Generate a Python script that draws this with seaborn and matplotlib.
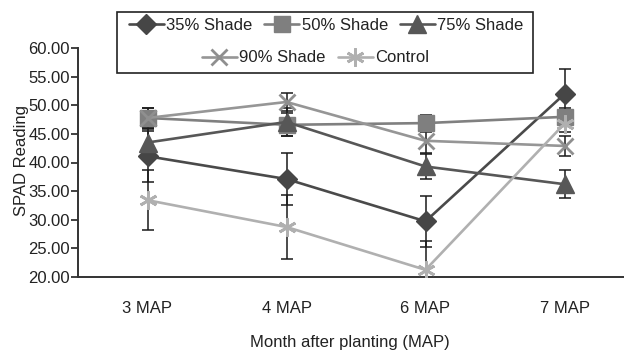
import numpy as np
import pandas as pd
import matplotlib
matplotlib.use("Agg")
import matplotlib.pyplot as plt
from matplotlib.patches import Rectangle
from matplotlib.ticker import FormatStrFormatter, FixedLocator
import seaborn as sns

months = ["3 MAP", "4 MAP", "6 MAP", "7 MAP"]
series = ["35% Shade", "50% Shade", "75% Shade", "90% Shade", "Control"]
shade35 = [41.1, 37.1, 29.7, 52.0]
shade50 = [47.8, 46.6, 46.9, 48.0]
shade75 = [43.5, 47.1, 39.3, 36.2]
shade90 = [47.8, 50.6, 43.8, 42.9]
control = [33.4, 28.7, 21.2, 46.8]
err35 = [4.5, 4.5, 4.5, 4.4]
err50 = [1.8, 2.0, 1.5, 1.5]
err75 = [2.4, 2.4, 2.2, 2.4]
err90 = [1.7, 1.6, 2.2, 1.8]
errc = [5.2, 5.6, 5.1, 1.5]

values = [shade35, shade50, shade75, shade90, control]
errors = [err35, err50, err75, err90, errc]

styles = {
    "35% Shade": dict(color="#4a4a4a", marker="D", ms=10, mfc="#464646", mec="#464646", mew=1),
    "50% Shade": dict(color="#808080", marker="s", ms=12, mfc="#7f7f7f", mec="#7f7f7f", mew=1),
    "75% Shade": dict(color="#575757", marker="^", ms=13, mfc="#575757", mec="#575757", mew=1),
    "90% Shade": dict(color="#969696", marker="x", ms=11, mfc="#8f8f8f", mec="#8f8f8f", mew=2),
    "Control": dict(color="#b0b0b0", marker=(6, 2, 0), ms=13, mfc="#b0b0b0", mec="#b0b0b0", mew=2),
}

sns.set_style("white")
plt.rcParams["font.family"] = ["Liberation Sans Narrow", "Liberation Sans", "DejaVu Sans"]
FS = 12

fig = plt.figure(figsize=(6.24, 3.56), dpi=100)
ax = fig.add_axes([78 / 624, 79.3 / 356, 556 / 624, 228.4 / 356])

for name, vals, errs in zip(series, values, errors):
    ax.errorbar(months, vals, yerr=errs, fmt="none", ecolor="#1a1a1a",
                elinewidth=1.1, capsize=4, capthick=1.1, zorder=1)
for name, vals in zip(series, values):
    st = styles[name]
    df = pd.DataFrame({"month": months, "value": vals})
    sns.lineplot(data=df, x="month", y="value", ax=ax, color=st["color"],
                 marker=st["marker"], markersize=st["ms"], markerfacecolor=st["mfc"],
                 markeredgecolor=st["mec"], markeredgewidth=st["mew"],
                 linewidth=1.9, label=name, legend=False, zorder=3)

ax.set_xlim(-0.5, 3.5)
ax.set_ylim(20, 60)
ax.set_yticks(np.arange(20, 60.1, 5))
ax.yaxis.set_major_formatter(FormatStrFormatter("%.2f"))
ax.xaxis.set_minor_locator(FixedLocator([0.5, 1.5, 2.5]))
ax.tick_params(axis="x", which="major", length=0, pad=23, labelsize=FS, labelcolor="#222222")
ax.tick_params(axis="x", which="minor", length=5, width=1.3, color="#333333", direction="out")
ax.tick_params(axis="y", which="major", length=5, width=1.3, color="#333333", direction="out",
               pad=1, labelsize=FS, labelcolor="#222222", left=True)
for s in ["top", "right"]:
    ax.spines[s].set_visible(False)
for s in ["left", "bottom"]:
    ax.spines[s].set_color("#333333")
    ax.spines[s].set_linewidth(1.4)

ax.set_xlabel("Month after planting (MAP)", fontsize=FS, color="#222222")
ax.set_ylabel("SPAD Reading", fontsize=FS, color="#222222")
ax.xaxis.set_label_coords((350 - 78) / 556, -(343 - 276.7) / 228.4)
ax.yaxis.set_label_coords(-(78 - 22) / 556, (276.7 - 160) / 228.4)
ax.yaxis.label.set_verticalalignment("center")
ax.xaxis.label.set_verticalalignment("center")
ax.xaxis.get_major_ticks()  # ensure ticks exist
for lbl in ax.get_xticklabels():
    lbl.set_verticalalignment("center")

handles, labels = ax.get_legend_handles_labels()
hmap = dict(zip(labels, handles))
common = dict(frameon=False, fontsize=FS, handlelength=2.1, handletextpad=0.15,
              columnspacing=0.7, borderpad=0, labelcolor="#222222")
leg1 = fig.legend([hmap[s] for s in series[:3]], series[:3], loc="center", ncol=3,
                  bbox_to_anchor=(326 / 624, 1 - 25 / 356), **common)
leg2 = fig.legend([hmap[s] for s in series[3:]], series[3:], loc="center", ncol=2,
                  bbox_to_anchor=(315.5 / 624, 1 - 58 / 356), **common)
fig.add_artist(Rectangle((117 / 624, 1 - 73 / 356), 416 / 624, 61 / 356,
                         transform=fig.transFigure, fill=False, edgecolor="#222222", linewidth=1.2))

fig.savefig("out.png", dpi=100)
